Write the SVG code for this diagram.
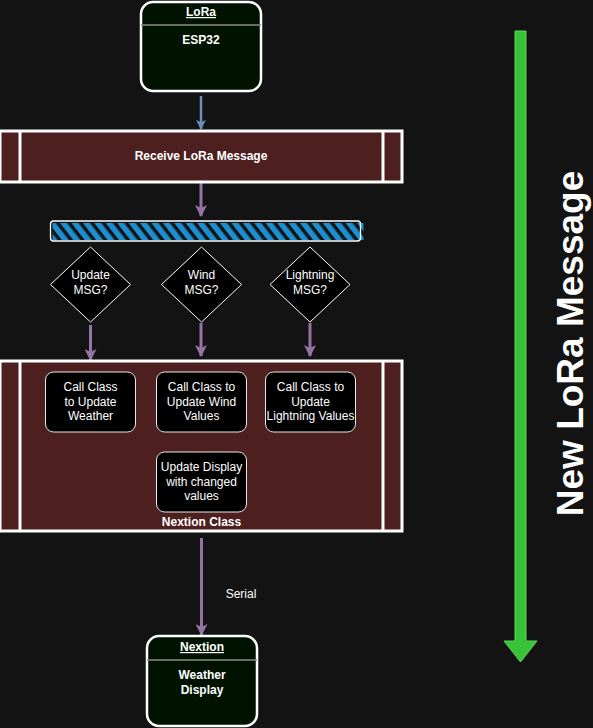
<svg xmlns="http://www.w3.org/2000/svg" width="593" height="728" viewBox="0 0 593 728">
  <defs>
    <style>
      .t { font-family: "Liberation Sans", Arial, sans-serif; fill: #ffffff; text-anchor: middle; }
      .b { font-weight: bold; font-size: 12px; }
      .r { font-size: 12px; }
      .dev { fill: #001300; stroke: #ffffff; stroke-width: 2.5; }
      .div { stroke: #8a8a8a; stroke-width: 1.5; }
      .band { fill: #4d1f1f; stroke: #ffffff; stroke-width: 3; }
      .band-line { stroke: #ffffff; stroke-width: 3; }
      .proc { fill: #000000; stroke: #e8e8e8; stroke-width: 1; }
      .dec { fill: #000000; stroke: #ffffff; stroke-width: 1; }
      .purple { stroke: #9673a6; stroke-width: 3; fill: none; }
      .blue { stroke: #6c8ebf; stroke-width: 2.5; fill: none; }
    </style>
    <pattern id="hatch" width="9" height="9" patternUnits="userSpaceOnUse" patternTransform="rotate(-38)">
      <rect x="0" y="0" width="5.5" height="9" fill="#1b8fd2"/>
    </pattern>
    <marker id="ap" viewBox="0 0 12 12" refX="11" refY="6" markerWidth="12" markerHeight="12" markerUnits="userSpaceOnUse" orient="auto">
      <path d="M0,0 L12,6 L0,12 L3,6 Z" fill="#9673a6"/>
    </marker>
    <marker id="ab" viewBox="0 0 12 12" refX="11" refY="6" markerWidth="10" markerHeight="10" markerUnits="userSpaceOnUse" orient="auto">
      <path d="M0,0 L12,6 L0,12 L3,6 Z" fill="#6c8ebf"/>
    </marker>
  </defs>

  <rect x="0" y="0" width="593" height="728" fill="#131313"/>

  <g id="connectors">
    <line class="blue" x1="201" y1="96" x2="201" y2="129" marker-end="url(#ab)"/>
    <line class="purple" x1="201" y1="182" x2="201" y2="216" marker-end="url(#ap)"/>
    <line class="purple" x1="90.5" y1="325" x2="90.5" y2="360" marker-end="url(#ap)"/>
    <line class="purple" x1="201" y1="323" x2="201" y2="356" marker-end="url(#ap)"/>
    <line class="purple" x1="310" y1="323" x2="310" y2="356" marker-end="url(#ap)"/>
    <line class="purple" x1="201.5" y1="538" x2="201.5" y2="635" marker-end="url(#ap)"/>
    <text class="t r" x="241" y="598">Serial</text>
  </g>

  <g id="lora">
    <rect class="dev" x="141" y="2" width="120" height="89" rx="12"/>
    <line class="div" x1="141" y1="25" x2="261" y2="25"/>
    <text class="t b" x="201" y="16" text-decoration="underline">LoRa</text>
    <text class="t b" x="201" y="44">ESP32</text>
  </g>

  <g id="receive">
    <rect class="band" x="0" y="131" width="402" height="51"/>
    <line class="band-line" x1="20" y1="131" x2="20" y2="182"/>
    <line class="band-line" x1="383" y1="131" x2="383" y2="182"/>
    <text class="t b" x="201" y="160">Receive LoRa Message</text>
  </g>

  <g id="bar">
    <rect x="52.5" y="223" width="311" height="17" fill="url(#hatch)"/>
    <rect x="50.5" y="221" width="310" height="20" rx="3" fill="none" stroke="#ffffff" stroke-width="1.3"/>
  </g>

  <g id="dec-update">
    <polygon class="dec" points="90.5,247 130.5,284.5 90.5,322 50.5,284.5"/>
    <text class="t r" x="90.5" y="279">Update</text>
    <text class="t r" x="90.5" y="294">MSG?</text>
  </g>
  <g id="dec-wind">
    <polygon class="dec" points="201.5,247 241.5,284.5 201.5,322 161.5,284.5"/>
    <text class="t r" x="201.5" y="279">Wind</text>
    <text class="t r" x="201.5" y="294">MSG?</text>
  </g>
  <g id="dec-lightning">
    <polygon class="dec" points="310,247 350,284.5 310,322 270,284.5"/>
    <text class="t r" x="310" y="279">Lightning</text>
    <text class="t r" x="310" y="294">MSG?</text>
  </g>

  <g id="nextion-class">
    <rect class="band" x="0" y="361" width="402" height="170"/>
    <line class="band-line" x1="20" y1="361" x2="20" y2="531"/>
    <line class="band-line" x1="383" y1="361" x2="383" y2="531"/>
    <text class="t b" x="201.5" y="526">Nextion Class</text>
  </g>

  <g id="call-weather">
    <rect class="proc" x="45.5" y="372" width="90" height="60" rx="8"/>
    <text class="t r" x="90.5" y="391">Call Class</text>
    <text class="t r" x="90.5" y="405.5">to Update</text>
    <text class="t r" x="90.5" y="420">Weather</text>
  </g>
  <g id="call-wind">
    <rect class="proc" x="156.5" y="372" width="90" height="60" rx="8"/>
    <text class="t r" x="201.5" y="391">Call Class to</text>
    <text class="t r" x="201.5" y="405.5">Update Wind</text>
    <text class="t r" x="201.5" y="420">Values</text>
  </g>
  <g id="call-lightning">
    <rect class="proc" x="265.5" y="372" width="90" height="60" rx="8"/>
    <text class="t r" x="310.5" y="391">Call Class to</text>
    <text class="t r" x="310.5" y="405.5">Update</text>
    <text class="t r" x="310.5" y="420">Lightning Values</text>
  </g>
  <g id="update-display">
    <rect class="proc" x="156.5" y="452" width="90" height="60" rx="8"/>
    <text class="t r" x="201.5" y="471">Update Display</text>
    <text class="t r" x="201.5" y="485.5">with changed</text>
    <text class="t r" x="201.5" y="500">values</text>
  </g>

  <g id="nextion">
    <rect class="dev" x="147" y="636" width="110" height="90" rx="12"/>
    <line class="div" x1="147" y1="660" x2="257" y2="660"/>
    <text class="t b" x="202" y="651" text-decoration="underline">Nextion</text>
    <text class="t b" x="202" y="679">Weather</text>
    <text class="t b" x="202" y="694">Display</text>
  </g>

  <g id="new-message">
    <polygon points="515,31 526,31 526,641 537,641 520.5,662 504,641 515,641" fill="#38c238" stroke="#5fd65f" stroke-width="1"/>
    <text class="t" font-weight="bold" font-size="37" transform="translate(583,343.5) rotate(-90)">New LoRa Message</text>
  </g>
</svg>
